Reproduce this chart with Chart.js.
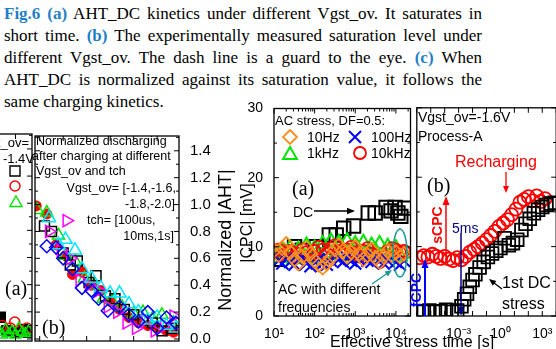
<!DOCTYPE html>
<html>
<head>
<meta charset="utf-8">
<title>Fig.6</title>
<script src="https://cdn.jsdelivr.net/npm/chart.js@4.4.1/dist/chart.umd.min.js"></script>
<style>
  html, body { margin: 0; padding: 0; background: #fff; }
  body { position: relative; width: 556px; height: 349px; overflow: hidden; }
  canvas { position: absolute; }
  .cap { position: absolute; left: 4px; width: 478px; font: 17px/22px "Liberation Serif", "Times New Roman", serif; color: #000;
         text-align: justify; text-align-last: justify; white-space: nowrap; }
  .cap.last { text-align: left; text-align-last: left; }
  .cap b { color: #1f7fc6; }
  .t { position: absolute; font-family: "Liberation Sans", Arial, sans-serif; white-space: nowrap; line-height: 1; color: #000; }
  .s { position: absolute; font-family: "Liberation Serif", "Times New Roman", serif; font-size: 20px; line-height: 1; }
  .r { transform: translate(-50%, -50%) rotate(-90deg); }
</style>
</head>
<body>

<div class="cap" style="top:3px"><b>Fig.6 (a)</b> AHT_DC kinetics under different Vgst_ov. It saturates in</div>
<div class="cap" style="top:25px">short time. <b>(b)</b> The experimentally measured saturation level under</div>
<div class="cap" style="top:47px">different Vgst_ov. The dash line is a guard to the eye. <b>(c)</b> When</div>
<div class="cap" style="top:69px">AHT_DC is normalized against its saturation value, it follows the</div>
<div class="cap last" style="top:91px">same charging kinetics.</div>

<canvas id="la" width="152" height="237" style="left:-110px;top:124px"></canvas>
<canvas id="lb" width="194" height="237" style="left:25px;top:124px"></canvas>
<canvas id="ra" width="188" height="249" style="left:234px;top:97px"></canvas>
<canvas id="rb" width="161" height="249" style="left:406px;top:97px"></canvas>
<canvas id="ov" width="556" height="349" style="left:0;top:0"></canvas>

<!-- left figure, cut panel (a) -->
<div class="t" style="right:527px;top:136px;font-size:13px">Vgst_ov=</div>
<div class="t" style="right:522px;top:152px;font-size:13px">-1.4V</div>
<div class="s" style="left:5px;top:278px">(a)</div>

<!-- left figure, panel (b) -->
<div class="t" style="left:36px;top:135px;font-size:12.5px">Normalized discharging</div>
<div class="t" style="left:32px;top:150px;font-size:12.5px">after charging at different</div>
<div class="t" style="left:36px;top:165px;font-size:12.5px">Vgst_ov and tch</div>
<div class="t" style="right:380px;top:182px;font-size:12.5px">Vgst_ov= [-1.4,-1.6,</div>
<div class="t" style="right:381px;top:198px;font-size:12.5px">-1.8,-2.0]</div>
<div class="t" style="left:87px;top:214px;font-size:12.5px">tch= [100us,</div>
<div class="t" style="right:382px;top:230px;font-size:12.5px">10ms,1s]</div>
<div class="s" style="left:42px;top:317px">(b)</div>
<div class="t r" style="left:225px;top:240px;font-size:18px">Normalized |AHT|</div>

<!-- right figure -->
<div class="t r" style="left:247px;top:223px;font-size:16px">|CPC| [mV]</div>
<div class="t" style="left:275px;top:114px;font-size:13px">AC stress, DF=0.5:</div>
<div class="t" style="left:307px;top:130px;font-size:14px">10Hz</div>
<div class="t" style="left:371px;top:130px;font-size:14px">100Hz</div>
<div class="t" style="left:307px;top:146px;font-size:14px">1kHz</div>
<div class="t" style="left:371px;top:146px;font-size:14px">10kHz</div>
<div class="s" style="left:292px;top:178px">(a)</div>
<div class="t" style="left:293px;top:205px;font-size:14px">DC</div>
<div class="t" style="left:278px;top:282px;font-size:14px">AC with different</div>
<div class="t" style="left:278px;top:300px;font-size:14px">frequencies</div>

<div class="t" style="left:418px;top:110px;font-size:14px">Vgst_ov=-1.6V</div>
<div class="t" style="left:418px;top:129px;font-size:14px">Process-A</div>
<div class="t" style="left:455px;top:154px;font-size:16px;color:#ff0000">Recharging</div>
<div class="s" style="left:427px;top:175px">(b)</div>
<div class="t r" style="left:437px;top:225px;font-size:14px;font-weight:bold;color:#ff0000">sCPC</div>
<div class="t" style="left:452px;top:221px;font-size:14px;color:#000080">5ms</div>
<div class="t r" style="left:416px;top:290px;font-size:14px;font-weight:bold;color:#0000ff">fCPC</div>
<div class="t" style="left:502px;top:275px;font-size:16px">1st DC</div>
<div class="t" style="left:502px;top:296px;font-size:16px">stress</div>
<div class="t" style="left:412px;top:334px;font-size:16px;transform:translateX(-50%)">Effective stress time [s]</div>

<script>
const F = '"Liberation Sans", Arial, sans-serif';

// ---------- right figure (a): |CPC| vs effective stress time ----------
const tDC = [11, 19, 32, 50, 110, 230, 340, 520, 910, 2090, 3090, 5750, 7590, 9550, 11200, 13200, 16600];
const vDC = [8.2, 9.3, 10.0, 9.5, 10.0, 11.7, 11.7, 12.7, 13.0, 14.9, 14.9, 15.7, 15.2, 15.7, 14.9, 14.4, 15.6];

const tAC = [10, 13, 16, 20, 25, 32, 40, 50, 63, 79, 100, 126, 158, 200, 251, 316, 398, 501, 631, 794,
             1000, 1259, 1585, 1995, 2512, 3162, 3981, 5012, 6310, 7943, 10000, 12589, 15849];
const v10Hz = [9.5, 8.8, 9.8, 10.4, 9.2, 8.2, 7.6, 8.6, 9.8, 9.0, 8.0, 7.4, 7.0, 7.6, 8.4, 9.6, 10.2, 9.4, 8.6, 9.2,
               10.0, 9.0, 8.2, 8.8, 9.6, 8.4, 7.8, 8.6, 9.4, 8.8, 9.2, 8.6, 9.0];
const v100Hz = [8.6, 8.0, 7.6, 8.2, 7.8, 7.4, 8.0, 8.4, 7.6, 7.2, 7.8, 8.2, 7.6, 7.4, 8.0, 8.6, 8.2, 7.8, 8.4, 8.0,
                7.6, 8.2, 8.6, 8.0, 7.8, 8.4, 8.2, 7.6, 8.0, 8.4, 7.8, 7.4, 8.0];
const v1kHz = [9.0, 8.4, 9.4, 8.6, 9.8, 8.2, 9.6, 8.8, 10.2, 8.4, 9.8, 8.6, 10.4, 9.0, 10.8, 8.8, 10.6, 9.2, 10.8, 8.6,
               10.4, 9.0, 10.6, 8.8, 10.2, 9.4, 10.4, 8.8, 10.0, 9.2, 9.8, 8.6, 9.0];
const v10kHz = [9.2, 9.6, 8.8, 9.0, 9.4, 8.6, 9.0, 9.6, 9.2, 8.8, 9.4, 10.0, 9.6, 9.0, 9.8, 10.2, 9.4, 8.8, 9.6, 10.0,
                9.2, 8.6, 9.4, 9.8, 9.0, 8.4, 7.8, 8.6, 9.4, 9.8, 9.6, 9.2, 9.4];

// ---------- right figure (b): recharging vs 1st DC stress ----------
const tRe = [1.6e-6, 3.2e-6, 6.3e-6, 1.3e-5, 2.5e-5, 5e-5, 1e-4, 2e-4, 4e-4, 8e-4, 1.6e-3, 3.2e-3, 6.3e-3, 0.013, 0.025,
             0.05, 0.1, 0.2, 0.4, 0.8, 1.6, 3.2, 6.3, 13, 25, 50, 100, 200, 400, 800, 1600];
const vRe = [8.4, 8.7, 8.5, 8.9, 8.6, 8.3, 8.6, 8.2, 8.0, 8.4, 8.1, 8.6, 9.2, 9.6, 10.0,
             10.5, 11.0, 11.6, 12.2, 12.9, 13.4, 13.9, 14.6, 15.4, 16.4, 16.8, 17.2, 16.6, 17.3, 16.5, 16.9];
const t1st = [1.26e-6, 3.2e-6, 7.9e-6, 2e-5, 5e-5, 1.26e-4, 3.2e-4, 7.9e-4, 1.6e-3, 2.5e-3, 4e-3, 6.3e-3, 0.01, 0.016,
              0.032, 0.063, 0.126, 0.25, 0.5, 1, 2, 4, 7.9, 16, 32, 63, 126, 250, 500, 1000, 2000, 4000, 7900];
const v1st = [0.7, 0.6, 0.8, 0.6, 0.7, 0.9, 0.6, 0.8, 1.4, 2.4, 3.2, 4.2, 5.2, 6.0,
              7.0, 7.8, 8.5, 9.0, 9.4, 9.8, 11.2, 10.2, 10.5, 11.0, 12.4, 13.3, 14.0, 14.8, 15.3, 15.7, 16.0, 16.2, 16.3];

// ---------- left figure (b): normalized discharging ----------
const tSq = [1.6e-6, 3.2e-6, 1e-5, 2e-5, 4e-5, 1.26e-4, 2.5e-4, 6.3e-4, 1.6e-3, 4e-3, 0.01, 0.025, 0.063, 0.16, 0.4];
const nSq = [0.84, 0.80, 0.64, 0.55, 0.58, 0.42, 0.47, 0.32, 0.30, 0.22, 0.18, 0.14, 0.12, 0.06, 0.08];
const tCi = [7.1e-7, 2e-6, 5e-6, 1.26e-5, 2.5e-5, 6.3e-5, 1.6e-4, 4e-4, 1e-3, 2.5e-3, 6.3e-3, 0.016, 0.04, 0.1, 0.25, 0.5];
const nCi = [0.99, 0.93, 0.70, 0.62, 0.48, 0.50, 0.40, 0.36, 0.28, 0.22, 0.16, 0.12, 0.10, 0.08, 0.06, 0.05];
const tTr = [7.9e-7, 2e-6, 6.3e-6, 1.26e-5, 3.2e-5, 7.9e-5, 2e-4, 5e-4, 1.26e-3, 3.2e-3, 0.01, 0.025, 0.063, 0.16, 0.5];
const nTr = [0.96, 0.94, 0.77, 0.62, 0.58, 0.45, 0.40, 0.30, 0.28, 0.24, 0.19, 0.20, 0.15, 0.18, 0.12];
const tMg = [2.5e-6, 7.9e-6, 1.4e-5, 2e-5, 5e-5, 1.26e-4, 3.2e-4, 7.9e-4, 2e-3, 5e-3, 0.0126, 0.032, 0.079, 0.2, 0.5];
const nMg = [0.80, 0.66, 0.88, 0.60, 0.44, 0.40, 0.36, 0.24, 0.20, 0.12, 0.08, 0.14, 0.06, 0.10, 0.17];
const tDi = [2e-6, 5e-6, 1e-5, 2.5e-5, 6.3e-5, 1.6e-4, 3.2e-4, 7.9e-4, 2.5e-3, 6.3e-3, 0.016, 0.04, 0.1, 0.25, 0.63];
const nDi = [0.69, 0.68, 0.60, 0.52, 0.38, 0.36, 0.30, 0.21, 0.24, 0.18, 0.13, 0.20, 0.08, 0.16, 0.12];
const tCy = [2.5e-6, 6.3e-6, 1.26e-5, 3.2e-5, 6.3e-5, 1.6e-4, 4e-4, 1e-3, 2.5e-3, 6.3e-3, 0.016, 0.04, 0.1, 0.25, 0.63];
const nCy = [0.90, 0.70, 0.74, 0.66, 0.52, 0.45, 0.38, 0.34, 0.34, 0.26, 0.20, 0.14, 0.16, 0.10, 0.08];

// ---------- left figure (a): only its right edge is visible ----------
const tA1 = [0.012, 0.03, 0.1, 0.3, 0.6];
const nA1 = [0.16, 0.06, 0.05, 0.07, 0.05];
const tA2 = [0.015, 0.05, 0.09, 0.2, 0.5];
const nA2 = [0.10, 0.08, 0.125, 0.06, 0.08];
const tA3 = [0.011, 0.016, 0.025, 0.04, 0.063, 0.1, 0.16, 0.25, 0.4, 0.63];
const nA3 = [0.05, 0.03, 0.07, 0.04, 0.06, 0.03, 0.08, 0.05, 0.04, 0.06];

// ---------- tick values and labels ----------
const xTicksRA = [10, 100, 1000, 10000];
const xLabRA = ['10¹', '10²', '10³', '10⁴'];
const xTicksRB = [1e-6, 1e-5, 1e-4, 1e-3, 1e-2, 1e-1, 1, 10, 100, 1000, 10000];
const xLabRB = ['', '', '', '10⁻³', '', '', '10⁰', '', '', '10³', ''];
const yTicksR = [0, 10, 20, 30];
const xTicksLB = [1e-6, 1e-5, 1e-4, 1e-3, 1e-2, 1e-1];
const xLabLB = ['', '10⁻⁵', '', '10⁻³', '', '10⁻¹'];
const xTicksLA = [1e-7, 1e-5, 1e-3, 1e-1];
const xLabLA = ['10⁻⁷', '10⁻⁵', '10⁻³', '10⁻¹'];
const yTicksL = [0, 0.2, 0.4, 0.6, 0.8, 1.0, 1.2, 1.4];

// frame box with inward ticks on all four sides
const frame = {
  id: 'frame',
  afterDatasetsDraw(chart, args, o) {
    const { ctx, chartArea: a } = chart;
    const x = chart.scales.x, y = chart.scales.y;
    ctx.save();
    ctx.strokeStyle = '#000';
    ctx.lineWidth = 1.3;
    ctx.strokeRect(a.left, a.top, a.right - a.left, a.bottom - a.top);
    ctx.lineWidth = 1;
    ctx.beginPath();
    const tx = (v, len) => {
      const p = x.getPixelForValue(v);
      if (p < a.left - 0.5 || p > a.right + 0.5) return;
      ctx.moveTo(p, a.bottom); ctx.lineTo(p, a.bottom - len);
      ctx.moveTo(p, a.top); ctx.lineTo(p, a.top + len);
    };
    const ty = (v, len) => {
      const p = y.getPixelForValue(v);
      if (p < a.top - 0.5 || p > a.bottom + 0.5) return;
      ctx.moveTo(a.left, p); ctx.lineTo(a.left + len, p);
      ctx.moveTo(a.right, p); ctx.lineTo(a.right - len, p);
    };
    x.ticks.forEach(t => tx(t.value, 5));
    (o.xMinor || []).forEach(v => tx(v, 3));
    y.ticks.forEach(t => ty(t.value, 5));
    (o.yMinor || []).forEach(v => ty(v, 3));
    ctx.stroke();
    ctx.restore();
  }
};

const pts = (xs, ys) => xs.map((v, i) => ({ x: v, y: ys[i] }));

function ser(xs, ys, style, color, r, w, filled, rot) {
  return {
    data: pts(xs, ys),
    showLine: false,
    pointStyle: style,
    pointRadius: r,
    pointHoverRadius: r,
    pointBorderWidth: w,
    pointBorderColor: color,
    pointBackgroundColor: filled ? color : 'rgba(0,0,0,0)',
    pointRotation: rot || 0
  };
}

function logX(min, max, ticks, labels, size, pad, h, show) {
  return {
    type: 'logarithmic', position: 'bottom', min: min, max: max, display: show !== false,
    grid: { display: false }, border: { display: false },
    afterBuildTicks: s => { s.ticks = ticks.map(v => ({ value: v })); },
    afterFit: s => { s.height = h; },
    ticks: { autoSkip: false, maxRotation: 0, padding: pad, color: '#000',
             font: { family: F, size: size }, callback: (v, i) => labels[i] }
  };
}

function linY(min, max, ticks, pos, w, size, fmt, show) {
  return {
    type: 'linear', position: pos, min: min, max: max, display: show !== false,
    grid: { display: false }, border: { display: false },
    afterBuildTicks: s => { s.ticks = ticks.map(v => ({ value: v })); },
    afterFit: s => { s.width = w; },
    ticks: { autoSkip: false, padding: 3, color: '#000', font: { family: F, size: size }, callback: fmt }
  };
}

function plot(id, datasets, scales, padding, minor) {
  return new Chart(document.getElementById(id), {
    type: 'scatter',
    data: { datasets: datasets },
    options: {
      responsive: false, animation: false, events: [],
      layout: { padding: padding },
      scales: scales,
      plugins: { legend: { display: false }, tooltip: { enabled: false }, frame: minor }
    },
    plugins: [frame]
  });
}

const ORANGE = '#ff8c1a', BLUE = '#0000ff', GREEN = '#00e600', RED = '#ff0000',
      MAGENTA = '#ff00ff', CYAN = '#00e5ff';

// minor tick positions
const minorRA = [];
for (let e = 1; e <= 4; e++) for (let m = 2; m <= 9; m++) minorRA.push(m * Math.pow(10, e));
const minorR = [5, 15, 25];
const minorL = [0.1, 0.3, 0.5, 0.7, 0.9, 1.1, 1.3, 1.5];

// left (a)
plot('la', [
  ser(tA3, nA3, 'triangle', GREEN, 6, 1.5, false),
  ser(tA2, nA2, 'circle', RED, 5, 1.5, false),
  ser(tA1, nA1, 'rect', '#000', 7, 1.5, true)
], {
  x: logX(1e-8, 1, xTicksLA, xLabLA, 13, 4, 20),
  y: linY(-0.015, 1.51, yTicksL, 'left', 0, 13, v => '', false)
}, { left: 10, right: 10, top: 10, bottom: 0 }, { yMinor: minorL });

// left (b)
plot('lb', [
  ser(tDi, nDi, 'rectRot', BLUE, 6.5, 1.5, false),
  ser(tCy, nCy, 'triangle', CYAN, 7.5, 1.5, false),
  ser(tMg, nMg, 'triangle', MAGENTA, 7, 1.5, false, 90),
  ser(tSq, nSq, 'rect', '#000', 7, 1.5, false),
  ser(tTr, nTr, 'triangle', GREEN, 7, 1.5, false),
  ser(tCi, nCi, 'circle', RED, 5, 1, true)
], {
  x: logX(6.31e-7, 0.851, xTicksLB, xLabLB, 13, 4, 20),
  y: linY(-0.015, 1.51, yTicksL, 'right', 40, 15, v => v.toFixed(1))
}, { left: 10, right: 0, top: 10, bottom: 0 }, { yMinor: minorL });

// right (a)
plot('ra', [
  ser(tAC, v10Hz, 'rectRot', ORANGE, 7, 1.8, false),
  ser(tAC, v100Hz, 'crossRot', BLUE, 8.5, 2, false),
  ser(tAC, v10kHz, 'circle', RED, 6, 1.8, false),
  ser(tAC, v1kHz, 'triangle', GREEN, 8, 2, false),
  ser(tDC, vDC, 'rect', '#000', 9.5, 2, false)
], {
  x: logX(10, 22900, xTicksRA, xLabRA, 14, 2, 30),
  y: linY(0, 30, yTicksR, 'left', 40, 14, v => String(v))
}, { left: 0, right: 10, top: 10, bottom: 0 }, { xMinor: minorRA, yMinor: minorR });

// right (b)
plot('rb', [
  ser(t1st, v1st, 'rect', '#000', 9, 1.8, false),
  ser(tRe, vRe, 'circle', RED, 6.5, 1.8, false)
], {
  x: logX(1e-6, 1e4, xTicksRB, xLabRB, 14, 2, 30),
  y: linY(0, 30, yTicksR, 'left', 0, 14, v => '', false)
}, { left: 10, right: 10, top: 10, bottom: 0 }, { yMinor: minorR });

// annotations: arrows, ellipse, legend symbols
const g = document.getElementById('ov').getContext('2d');

function arrow(x1, y1, x2, y2, col, lw, hl, hw) {
  const a = Math.atan2(y2 - y1, x2 - x1);
  g.save();
  g.strokeStyle = col; g.fillStyle = col; g.lineWidth = lw;
  g.beginPath();
  g.moveTo(x1, y1);
  g.lineTo(x2 - Math.cos(a) * hl * 0.8, y2 - Math.sin(a) * hl * 0.8);
  g.stroke();
  g.beginPath();
  g.moveTo(x2, y2);
  g.lineTo(x2 - Math.cos(a) * hl + Math.sin(a) * hw, y2 - Math.sin(a) * hl - Math.cos(a) * hw);
  g.lineTo(x2 - Math.cos(a) * hl - Math.sin(a) * hw, y2 - Math.sin(a) * hl + Math.cos(a) * hw);
  g.closePath();
  g.fill();
  g.restore();
}

function mark(kind, x, y, r, col, lw) {
  g.save();
  g.strokeStyle = col; g.lineWidth = lw;
  g.beginPath();
  if (kind === 'sq') g.rect(x - r, y - r, 2 * r, 2 * r);
  if (kind === 'ci') g.arc(x, y, r, 0, Math.PI * 2);
  if (kind === 'tr') { g.moveTo(x, y - r); g.lineTo(x + r * 0.87, y + r * 0.5); g.lineTo(x - r * 0.87, y + r * 0.5); g.closePath(); }
  if (kind === 'di') { g.moveTo(x, y - r); g.lineTo(x + r, y); g.lineTo(x, y + r); g.lineTo(x - r, y); g.closePath(); }
  if (kind === 'x') { g.moveTo(x - r, y - r); g.lineTo(x + r, y + r); g.moveTo(x + r, y - r); g.lineTo(x - r, y + r); }
  g.stroke();
  g.restore();
}

// right (a)
arrow(314, 211, 355, 211, '#000', 1.3, 8, 3.2);
arrow(372, 284, 392, 270, '#1a9999', 1.3, 7, 3);
g.save();
g.strokeStyle = '#1a9999'; g.lineWidth = 1.5;
g.beginPath(); g.ellipse(400, 253, 7, 24, 0, 0, Math.PI * 2); g.stroke();
g.restore();
mark('di', 290, 137, 7, ORANGE, 1.8);
mark('x', 355, 137, 6, BLUE, 2);
mark('tr', 290, 155, 8, GREEN, 2);
mark('ci', 360, 153, 6, RED, 1.8);

// right (b)
arrow(506, 172, 506, 193, RED, 1.3, 7, 3);
arrow(446, 262, 446, 196, RED, 1.5, 9, 3.5);
arrow(425, 316, 425, 259, BLUE, 2, 9, 3.5);
arrow(461, 233, 461, 316, '#000080', 1.5, 9, 3.5);
arrow(502, 289, 489, 279, '#000', 1.3, 7, 3);

// left (a) legend symbols
mark('sq', 15, 171, 5, '#000', 1.4);
mark('ci', 15, 186, 5, RED, 1.4);
mark('tr', 16, 203, 7, GREEN, 1.4);
</script>
</body>
</html>
